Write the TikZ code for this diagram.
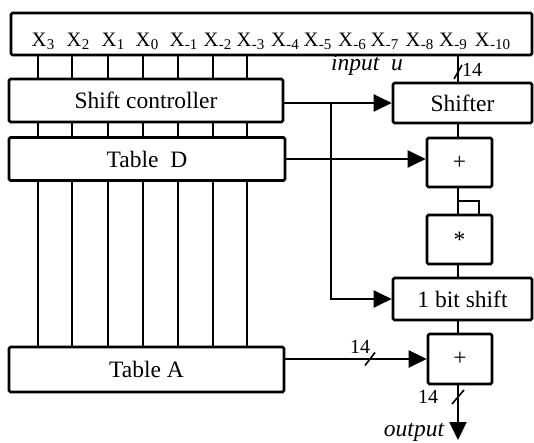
\documentclass[tikz,border=0pt]{standalone}
\usepackage{fontspec}
\setmainfont{Liberation Serif}
\usetikzlibrary{arrows.meta}
\newcommand{\xsub}[1]{X\kern0.5pt\raisebox{-3pt}{\fontsize{15}{18}\selectfont #1}}
\begin{document}
\begin{tikzpicture}[x=1pt,y=-1pt,
  box/.style={draw, line width=2.6pt, rounded corners=1.5pt, inner sep=0pt, font=\fontsize{23.5}{28}\selectfont},
  wire/.style={line width=2pt},
  arr/.style={wire, -{Triangle[length=18pt,width=17pt]}},
  lab/.style={font=\fontsize{20}{24}\selectfont, inner sep=0pt},
  ilab/.style={font=\fontsize{23.5}{28}\selectfont\itshape, inner sep=0pt},
  xlab/.style={font=\fontsize{20.5}{24}\selectfont, inner sep=0pt, anchor=base},
  slash/.style={line width=1.6pt},
]
\useasboundingbox (0,0) rectangle (534,443);

% boxes
\node[box, minimum width=521pt, minimum height=42pt] (inp) at (271.5,34) {};
\node[box, minimum width=274pt, minimum height=43pt] (sc) at (146,100.5) {Shift controller};
\node[box, minimum width=276pt, minimum height=43pt] (td) at (147,159) {Table\ \ D};
\node[box, minimum width=275pt, minimum height=45pt] (ta) at (146.5,369.5) {Table A};
\node[box, minimum width=139pt, minimum height=40pt] (sh) at (462.5,103) {Shifter};
\node[box, minimum width=65pt, minimum height=49pt] (p1) at (459.5,162.5) {+};
\node[box, minimum width=65pt, minimum height=49pt] (mul) at (459.5,239.5) {*};
\node[box, minimum width=139pt, minimum height=42pt] (bs) at (462.5,299) {1 bit shift};
\node[box, minimum width=64pt, minimum height=50pt] (p2) at (460,359) {+};

% input labels
\foreach \xx/\s [count=\i] in {43/3, 78/2, 113/1, 147/0, 183.5/-1, 217.5/-2, 250.5/-3, 285/-4, 317.5/-5, 352/-6, 384.5/-7, 419.5/-8, 453/-9, 492.5/-10}
  \node[xlab] (x\i) at (\xx,47) {\xsub{\s}};

% bus lines
\foreach \bx [count=\i] in {38, 72, 108, 143, 178, 213, 247} {
  \coordinate (b\i) at (\bx,0);
  \draw[wire] (inp.south -| b\i) -- (sc.north -| b\i);
  \draw[wire] (sc.south -| b\i) -- (td.north -| b\i);
  \draw[wire] (td.south -| b\i) -- (ta.north -| b\i);
}

% right column
\coordinate (col) at (458,0);
\draw[wire] (inp.south -| col) -- (sh.north -| col);
\coordinate (s1) at (458,72);
\draw[slash] ([shift={(-4,7)}]s1) -- ([shift={(4,-7)}]s1);
\node[lab] (l14a) at (472,70) {14};
\node[ilab] (inu) at (367,65) {input\ \ u};

\draw[arr] (sc.east |- sh.west) -- (sh.west);
\coordinate (br) at (331,103);
\draw[arr] (br) -- (br |- bs.west) -- (bs.west);
\draw[arr] (td.east) -- (td.east -| p1.west);

\draw[wire] (sh.south -| col) -- (p1.north -| col);
\draw[wire] (p1.south -| col) -- (mul.north -| col);
\coordinate (lp) at (479,201);
\draw[wire] (col |- lp) -- (lp) -- (lp |- mul.north);
\draw[wire] (mul.south -| col) -- (bs.north -| col);
\draw[wire] (bs.south -| col) -- (p2.north -| col);

\draw[arr] (ta.east |- p2.west) -- (p2.west);
\coordinate (s2) at (370,359);
\draw[slash] ([shift={(-5,6.5)}]s2) -- ([shift={(5,-6.5)}]s2);
\node[lab] (l14b) at (360,347) {14};

\coordinate (outc) at (458,440);
\draw[arr] (p2.south -| col) -- (outc);
\coordinate (s3) at (458,397);
\draw[slash] ([shift={(-6,7)}]s3) -- ([shift={(6,-7)}]s3);
\node[lab] (l14c) at (428,397) {14};
\node[ilab] (outl) at (414,432) {output};
\end{tikzpicture}
\end{document}
